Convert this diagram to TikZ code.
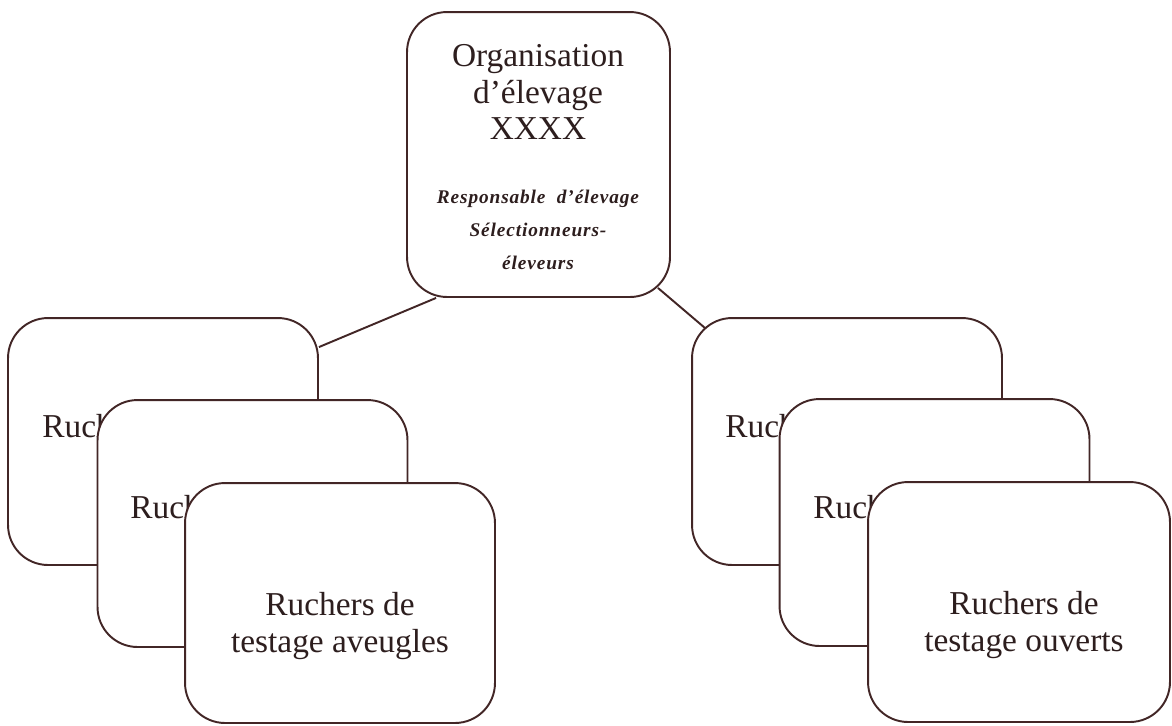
\documentclass[tikz,border=0pt]{standalone}
\usepackage{fontspec}
\setmainfont{Liberation Serif}
\newfontfamily\stafffont[LetterSpace=4.5]{Liberation Serif}
\usepackage{tikz}
\usetikzlibrary{positioning,calc}

\definecolor{boxline}{RGB}{66,38,38}
\definecolor{inktext}{RGB}{45,30,30}

\begin{document}
\begin{tikzpicture}[x=0.02cm, y=-0.02cm,
    rucher/.style={rectangle, rounded corners=0.8cm, draw=boxline, fill=white, line width=1.1pt, minimum width=6.2cm, minimum height=4.94cm},
    ruchtext/.style={text=inktext, font=\fontsize{19}{21.6}\selectfont, align=center, inner sep=0pt},
    stafftext/.style={text=inktext, font=\stafffont\bfseries\itshape\fontsize{11}{18.7}\selectfont, align=center, inner sep=0pt},
    link/.style={draw=boxline, line width=1.1pt}
    ]
        \useasboundingbox (0,0) rectangle (1172,725);

        %Top box
        \node[rucher, minimum width=5.26cm, minimum height=5.7cm]
            (org) at (538.5,154.5) {};
        \node[ruchtext, font=\fontsize{19}{21}\selectfont]
            (orgname) at (538,92) {Organisation\\d’élevage\\XXXX};
        \node[stafftext]
            (orgstaff) at (538,230) {Responsable~~d’élevage\\Sélectionneurs-\\éleveurs};

        %Left stack
        \node[rucher] (L1) at (163,441.5) {};
        \node[ruchtext, anchor=base west] (L1t) at (42,437) {Ruchers de};
        \node[rucher] (L2) at (252.5,523.5) {};
        \node[ruchtext, anchor=base west] (L2t) at (130,518) {Ruchers de};
        \node[rucher, minimum height=4.8cm] (L3) at (340,603) {};
        \node[ruchtext] (L3t) at ($(L3.center)+(0,23)$) {Ruchers de\\testage aveugles};

        %Right stack
        \node[rucher] (R1) at (847,441.5) {};
        \node[ruchtext, anchor=base west] (R1t) at (725,437) {Ruchers de};
        \node[rucher] (R2) at (934.5,522.5) {};
        \node[ruchtext, anchor=base west] (R2t) at (813,518) {Ruchers de};
        \node[rucher, minimum width=6.04cm, minimum height=4.8cm] (R3) at (1019,602) {};
        \node[ruchtext] (R3t) at ($(R3.center)+(5,23)$) {Ruchers de\\testage ouverts};

        %Lines
        \draw[link] ([xshift=0.6cm]org.south west) -- ([yshift=-0.6cm]L1.north east);
        \draw[link] ([xshift=-0.26cm, yshift=0.2cm]org.south east) -- ([xshift=0.28cm, yshift=-0.22cm]R1.north west);
\end{tikzpicture}
\end{document}
